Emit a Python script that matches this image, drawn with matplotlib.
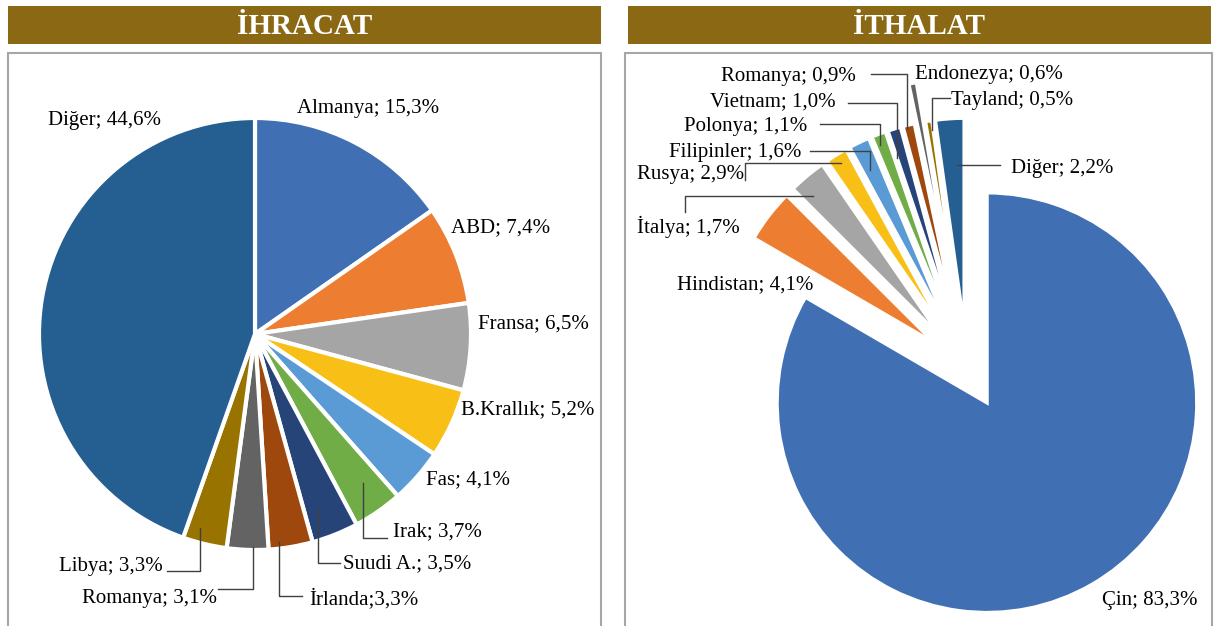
import matplotlib
matplotlib.use("Agg")
import matplotlib.pyplot as plt
from matplotlib.patches import Rectangle

# ---------------- data ----------------
ihracat_countries = ["Almanya", "ABD", "Fransa", "B.Krallık", "Fas", "Irak",
                     "Suudi A.", "İrlanda", "Romanya", "Libya", "Diğer"]
ihracat_shares = [15.3, 7.4, 6.5, 5.2, 4.1, 3.7, 3.5, 3.3, 3.1, 3.3, 44.6]
ihracat_labels = ["Almanya; 15,3%", "ABD; 7,4%", "Fransa; 6,5%", "B.Krallık; 5,2%",
                  "Fas; 4,1%", "Irak; 3,7%", "Suudi A.; 3,5%", "İrlanda;3,3%",
                  "Romanya; 3,1%", "Libya; 3,3%", "Diğer; 44,6%"]

ithalat_countries = ["Çin", "Hindistan", "İtalya", "Rusya", "Filipinler", "Polonya",
                     "Vietnam", "Romanya", "Endonezya", "Tayland", "Diğer"]
ithalat_shares = [83.3, 4.1, 2.9, 1.7, 1.6, 1.1, 1.0, 0.9, 0.6, 0.5, 2.2]
ithalat_labels = ["Çin; 83,3%", "Hindistan; 4,1%", "İtalya; 1,7%", "Rusya; 2,9%",
                  "Filipinler; 1,6%", "Polonya; 1,1%", "Vietnam; 1,0%", "Romanya; 0,9%",
                  "Endonezya; 0,6%", "Tayland; 0,5%", "Diğer; 2,2%"]

titles = ["İHRACAT", "İTHALAT"]

colors = ["#4070B3", "#ED7D31", "#A5A5A5", "#F8C017", "#5B9BD5", "#70AD47",
          "#264478", "#9E480E", "#636363", "#997300", "#255E91"]

# ---------------- figure ----------------
W, H = 1217, 626
fig = plt.figure(figsize=(W / 100, H / 100), dpi=100)
ax = fig.add_axes([0, 0, 1, 1])

FONT = "Liberation Serif"
BAR = "#8B6914"
LEAD = "#404040"

# panels
for (x0, x1), (bx0, bx1), t in zip([(8, 601), (628, 1211)], [(8, 601), (625, 1212)], titles):
    ax.add_patch(Rectangle((x0, 6), x1 - x0, 38, facecolor=BAR, edgecolor="none", zorder=1))
    ax.text((x0 + x1) / 2, 27, t, color="white", fontsize=21, fontweight="bold",
            family=FONT, ha="center", va="center", zorder=2)
    ax.add_patch(Rectangle((bx0, 53), bx1 - bx0, 600, facecolor="white",
                           edgecolor="#A6A6A6", linewidth=1.5, zorder=1))

# left pie (screen clockwise from 12 o'clock; y axis inverted)
ax.pie(ihracat_shares, colors=colors, startangle=-90, counterclock=True,
       center=(255, 334), radius=216,
       wedgeprops=dict(edgecolor="white", linewidth=3, zorder=3))

# right pie (explode is in pixel/data units here)
expl = [40] * len(ithalat_shares)
expl[ithalat_countries.index("Endonezya")] = 80
ax.pie(ithalat_shares, colors=colors, startangle=-90, counterclock=True,
       center=(967, 368), radius=210, explode=expl,
       wedgeprops=dict(edgecolor="white", linewidth=2.6, zorder=3))

ax.set_xlim(0, W)
ax.set_ylim(H, 0)
ax.set_aspect("auto")
ax.axis("off")

# ---------------- labels ----------------
DY = 2
left_pos = {
    "Almanya": (297, 106), "ABD": (451, 226), "Fransa": (478, 322),
    "B.Krallık": (461, 408), "Fas": (426, 478), "Irak": (393, 530),
    "Suudi A.": (343, 562), "İrlanda": (309, 597), "Romanya": (82, 597),
    "Libya": (59, 565), "Diğer": (48, 118),
}
for c, lab in zip(ihracat_countries, ihracat_labels):
    x, y = left_pos[c]
    ax.text(x, y + DY, lab, family=FONT, fontsize=15, ha="left", va="center", zorder=5)

left_leaders = [
    [(363, 483), (363, 538), (387, 538)],
    [(318, 508), (318, 563), (340, 563)],
    [(279, 542), (279, 596), (302, 596)],
    [(253, 547), (253, 589), (218, 589)],
    [(200, 528), (200, 571), (167, 571)],
]

right_pos = {
    "Çin": (1102, 598), "Hindistan": (677, 283), "İtalya": (637, 225),
    "Rusya": (637, 173), "Filipinler": (669, 150), "Polonya": (684, 124),
    "Vietnam": (710, 100), "Romanya": (721, 74), "Endonezya": (915, 73),
    "Tayland": (951, 99), "Diğer": (1011, 167),
}
for c, lab in zip(ithalat_countries, ithalat_labels):
    x, y = right_pos[c]
    ax.text(x, y + DY, lab, family=FONT, fontsize=15, ha="left", va="center", zorder=5)

right_leaders = [
    [(871, 74), (907, 74), (907, 128)],
    [(848, 103), (897, 103), (897, 158)],
    [(950, 98), (932, 98), (932, 130)],
    [(820, 124), (880, 124), (880, 145)],
    [(810, 151), (870, 151), (870, 170)],
    [(745, 180), (745, 163), (841, 163)],
    [(685, 212), (685, 196), (813, 196)],
    [(957, 165), (1000, 165)],
]
for pts in left_leaders + right_leaders:
    xs, ys = zip(*pts)
    ax.plot(xs, ys, color=LEAD, linewidth=1, zorder=6)

fig.savefig("out.png", dpi=100)
